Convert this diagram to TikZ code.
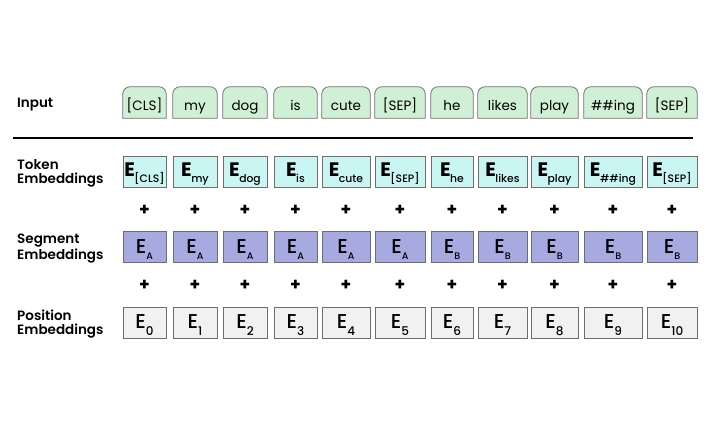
\documentclass[tikz,border=0pt]{standalone}
\usepackage{fontspec}
\setmainfont{Poppins}
\newfontfamily\semib{Poppins SemiBold}
\newfontfamily\medi{Poppins Medium}
\newfontfamily\boldp{Poppins Bold}
\usetikzlibrary{backgrounds}
\definecolor{ingreen}{HTML}{CFF0D4}
\definecolor{tokcyan}{HTML}{C9F6F3}
\definecolor{segblue}{HTML}{A6AAE0}
\definecolor{posgray}{HTML}{F1F1F1}
\definecolor{edgegray}{HTML}{6E6E6E}
\newcommand{\fs}[1]{\fontsize{#1}{#1}\selectfont}
\tikzset{
  emb/.style={draw=edgegray, line width=0.8pt, inner sep=0pt, anchor=base},
  intok/.style={inner sep=0pt, anchor=base, text height=23pt, text depth=8pt, font=\fs{13.5}},
  inbox/.style={draw=edgegray, line width=0.8pt, fill=ingreen},
  tokbox/.style={emb, fill=tokcyan, text height=20.7pt, text depth=10.3pt},
  segbox/.style={emb, fill=segblue, text height=22.3pt, text depth=8.7pt},
  posbox/.style={emb, fill=posgray, text height=21.3pt, text depth=9.7pt},
  rowlabel/.style={anchor=base west, align=left, inner sep=0pt, font=\semib\fs{13.5}, execute at begin node={\baselineskip=14pt}},
  plus/.style={font=\boldp\fs{17}, inner sep=0pt}
}
\begin{document}
\begin{tikzpicture}[x=1pt,y=-1pt]
\useasboundingbox (0,0) rectangle (710,426);
% row labels
\node[rowlabel] (linput) at (17,107.7) {Input};
\node[rowlabel] (ltok) at (17,183.3) {Token\\Embeddings};
\node[rowlabel] (lseg) at (17,259) {Segment\\Embeddings};
\node[rowlabel] (lpos) at (17,334) {Position\\Embeddings};
\draw[line width=2pt] (13,137.5) -- (693,137.5);
% input tokens
\foreach \i/\x/\w/\t in {1/144.5/43/{[CLS]},2/195/44/my,3/245/44/dog,4/295.5/43/is,
  5/346/48/cute,6/400/50/{[SEP]},7/452/42/he,8/502.5/49/likes,9/554.5/47/play,
  10/613/58/{\#\#ing},11/672/50/{[SEP]}}
  \node[intok, minimum width=\w pt] (in\i) at (\x,110) {\t};
\begin{scope}[on background layer]
\foreach \i in {1,...,11}
  \draw[inbox] (in\i.south west) [rounded corners=7pt] -- (in\i.north west) -- (in\i.north east) [sharp corners] -- (in\i.south east) -- cycle;
\end{scope}
% token embeddings
\foreach \i/\x/\w/\t in {1/144.5/43/{[CLS]},2/195/44/my,3/245/44/dog,4/295.5/43/is,
  5/346/48/cute,6/400/50/{[SEP]},7/452/42/he,8/502.5/49/likes,9/554.5/47/play,
  10/613/58/{\#\#ing},11/672/50/{[SEP]}}
  \node[tokbox, minimum width=\w pt] (tok\i) at (\x,176.7)
    {{\boldp\fs{19.5}E}\kern-0.5pt\raisebox{-6pt}{\medi\fs{10.8}\t}};
% segment embeddings
\foreach \i/\x/\w/\t in {1/144.5/43/A,2/195/44/A,3/245/44/A,4/295.5/43/A,
  5/346/48/A,6/400/50/A,7/452/42/B,8/502.5/49/B,9/554.5/47/B,
  10/613/58/B,11/672/50/B}
  \node[segbox, minimum width=\w pt] (seg\i) at (\x,253.3)
    {{\medi\fs{20}E}\raisebox{-6pt}{\medi\fs{9.5}\t}};
% position embeddings
\foreach \i/\x/\w in {1/144.5/43,2/195/44,3/245/44,4/295.5/43,
  5/346/48,6/400/50,7/452/42,8/502.5/49,9/554.5/47,
  10/613/58,11/672/50}{
  \pgfmathtruncatemacro{\p}{\i-1}
  \node[posbox, minimum width=\w pt] (pos\i) at (\x,328.3)
    {{\medi\fs{20}E}\raisebox{-7pt}{\medi\fs{12}\p}};
  \node[plus] (pa\i) at (\x,210) {+};
  \node[plus] (pb\i) at (\x,285.7) {+};
}
\end{tikzpicture}
\end{document}
